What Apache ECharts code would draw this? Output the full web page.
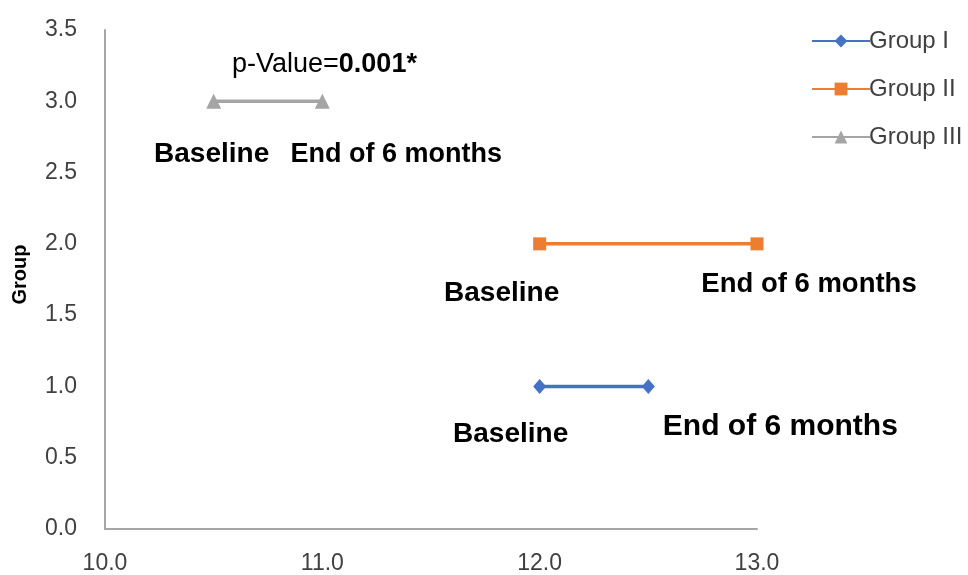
<!DOCTYPE html>
<html>
<head>
<meta charset="utf-8">
<script src="https://cdn.jsdelivr.net/npm/echarts@6/dist/echarts.min.js"></script>
<style>
html,body{margin:0;padding:0;background:#fff;}
#chart{width:968px;height:575px;}
</style>
</head>
<body>
<div id="chart"></div>
<script>
// ---- data ----
const groupNames = ['Group I', 'Group II', 'Group III'];
const groupY = [1.0, 2.0, 3.0];
const baselineX = [12.0, 12.0, 10.5];
const endX = [12.5, 13.0, 11.0];
const pointLabels = ['Baseline', 'End of 6 months'];
const pValueLabel = 'p-Value=';
const pValue = '0.001*';
const yAxisTitle = 'Group';

// ---- styles ----
const FONT = 'Liberation Sans, Arial, sans-serif';
const colors = ['#4472C4', '#ED7D31', '#A5A5A5'];
const symbols = ['diamond', 'rect', 'triangle'];
const symbolSizes = [[13, 15], 13, 15];
// label offsets [baseline, end] per group
const labelOffsets = [
  [[-29, 48], [132, 40]],
  [[-38, 49], [52, 41]],
  [[-2, 53], [74, 53]]
];
const labelSizes = [
  [28, 30],
  [28, 27.5],
  [28, 27]
];

const series = groupNames.map((name, i) => ({
  name: name,
  type: 'line',
  symbol: symbols[i],
  symbolSize: symbolSizes[i],
  color: colors[i],
  lineStyle: { width: 3.5, color: colors[i] },
  itemStyle: { color: colors[i] },
  z: 3,
  data: [baselineX[i], endX[i]].map((x, j) => ({
    value: [x, groupY[i]],
    label: {
      show: true,
      formatter: pointLabels[j],
      position: 'inside',
      align: 'center',
      verticalAlign: 'middle',
      offset: labelOffsets[i][j],
      fontFamily: FONT,
      fontWeight: 'bold',
      fontSize: labelSizes[i][j],
      color: '#000'
    }
  }))
}));

const chart = echarts.init(document.getElementById('chart'));
chart.setOption({
  backgroundColor: '#fff',
  animation: false,
  grid: { left: 105, right: 211, top: 30, bottom: 46, containLabel: false },
  xAxis: {
    type: 'value',
    min: 10, max: 13, interval: 1,
    axisLine: { show: true, lineStyle: { color: '#A6A6A6', width: 2 } },
    axisTick: { show: false },
    splitLine: { show: false },
    axisLabel: {
      formatter: v => v.toFixed(1),
      fontFamily: FONT,
      fontSize: 23, color: '#404040', margin: 23
    }
  },
  yAxis: {
    type: 'value',
    min: 0, max: 3.5, interval: 0.5,
    name: yAxisTitle,
    nameLocation: 'middle',
    nameGap: 75,
    nameTextStyle: {
      fontFamily: FONT,
      fontWeight: 'bold', fontSize: 20, color: '#000',
      padding: [0, 0, 0, 10]
    },
    axisLine: { show: true, lineStyle: { color: '#A6A6A6', width: 2 } },
    axisTick: { show: false },
    splitLine: { show: false },
    axisLabel: {
      formatter: v => v.toFixed(1),
      fontFamily: FONT,
      fontSize: 23, color: '#404040', margin: 28
    }
  },
  legend: {
    orient: 'vertical',
    left: 806, top: 24,
    itemWidth: 58, itemHeight: 16,
    itemGap: 24,
    data: groupNames,
    textStyle: {
      fontFamily: FONT,
      fontSize: 24, color: '#404040', padding: [0, 0, 0, -6]
    }
  },
  graphic: [{
    type: 'text',
    left: 232, top: 51,
    style: {
      text: '{n|' + pValueLabel + '}{b|' + pValue + '}',
      rich: {
        n: { fontFamily: FONT, fontSize: 27, color: '#000' },
        b: { fontFamily: FONT, fontSize: 27, fontWeight: 'bold', color: '#000' }
      }
    }
  }],
  series: series
});
</script>
</body>
</html>
